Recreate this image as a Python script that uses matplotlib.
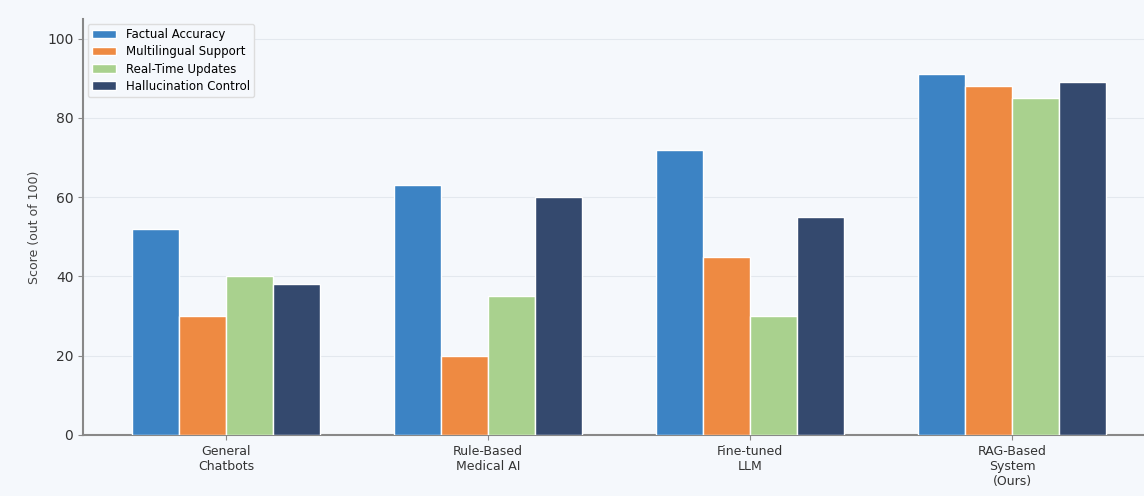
import matplotlib
matplotlib.use("Agg")
import matplotlib.pyplot as plt
import numpy as np

categories = ["General\nChatbots", "Rule-Based\nMedical AI", "Fine-tuned\nLLM", "RAG-Based\nSystem\n(Ours)"]
series_names = ["Factual Accuracy", "Multilingual Support", "Real-Time Updates", "Hallucination Control"]
factual = [52, 63, 72, 91]
multilingual = [30, 20, 45, 88]
realtime = [40, 35, 30, 85]
hallucination = [38, 60, 55, 89]
colors = ["#3C83C4", "#EE8A42", "#A9D18E", "#34496E"]

fig = plt.figure(figsize=(11.44, 4.96), dpi=100)
bg = "#F5F8FC"
fig.patch.set_facecolor(bg)
ax = fig.add_axes([0.0726, 0.123, 0.937, 0.839])
ax.set_facecolor(bg)

x = np.arange(len(categories))
w = 0.18
for i, (vals, name, c) in enumerate(zip([factual, multilingual, realtime, hallucination], series_names, colors)):
    ax.bar(x + (i - 1.5) * w, vals, w, label=name, color=c, edgecolor="white", linewidth=1.0, zorder=3)

ax.set_ylim(0, 105)
ax.set_yticks([0, 20, 40, 60, 80, 100])
ax.set_xticks(x)
ax.set_xticklabels(categories, fontsize=9, color="#333333")
ax.tick_params(axis="y", labelsize=10, colors="#333333")
ax.tick_params(axis="both", color="#888888")
ax.set_ylabel("Score (out of 100)", fontsize=9, color="#444444")
ax.yaxis.grid(True, color="#E3E8EE", linewidth=0.8, zorder=0)
for s in ["top", "right"]:
    ax.spines[s].set_visible(False)
for s in ["left", "bottom"]:
    ax.spines[s].set_color("#888888")
    ax.spines[s].set_linewidth(1.5)

leg = ax.legend(loc="upper left", fontsize=8.5, frameon=True, facecolor=bg, edgecolor="#DDDDDD",
                framealpha=1.0, borderaxespad=0.4, labelspacing=0.35)

fig.savefig("out.png", dpi=100, facecolor=bg)
